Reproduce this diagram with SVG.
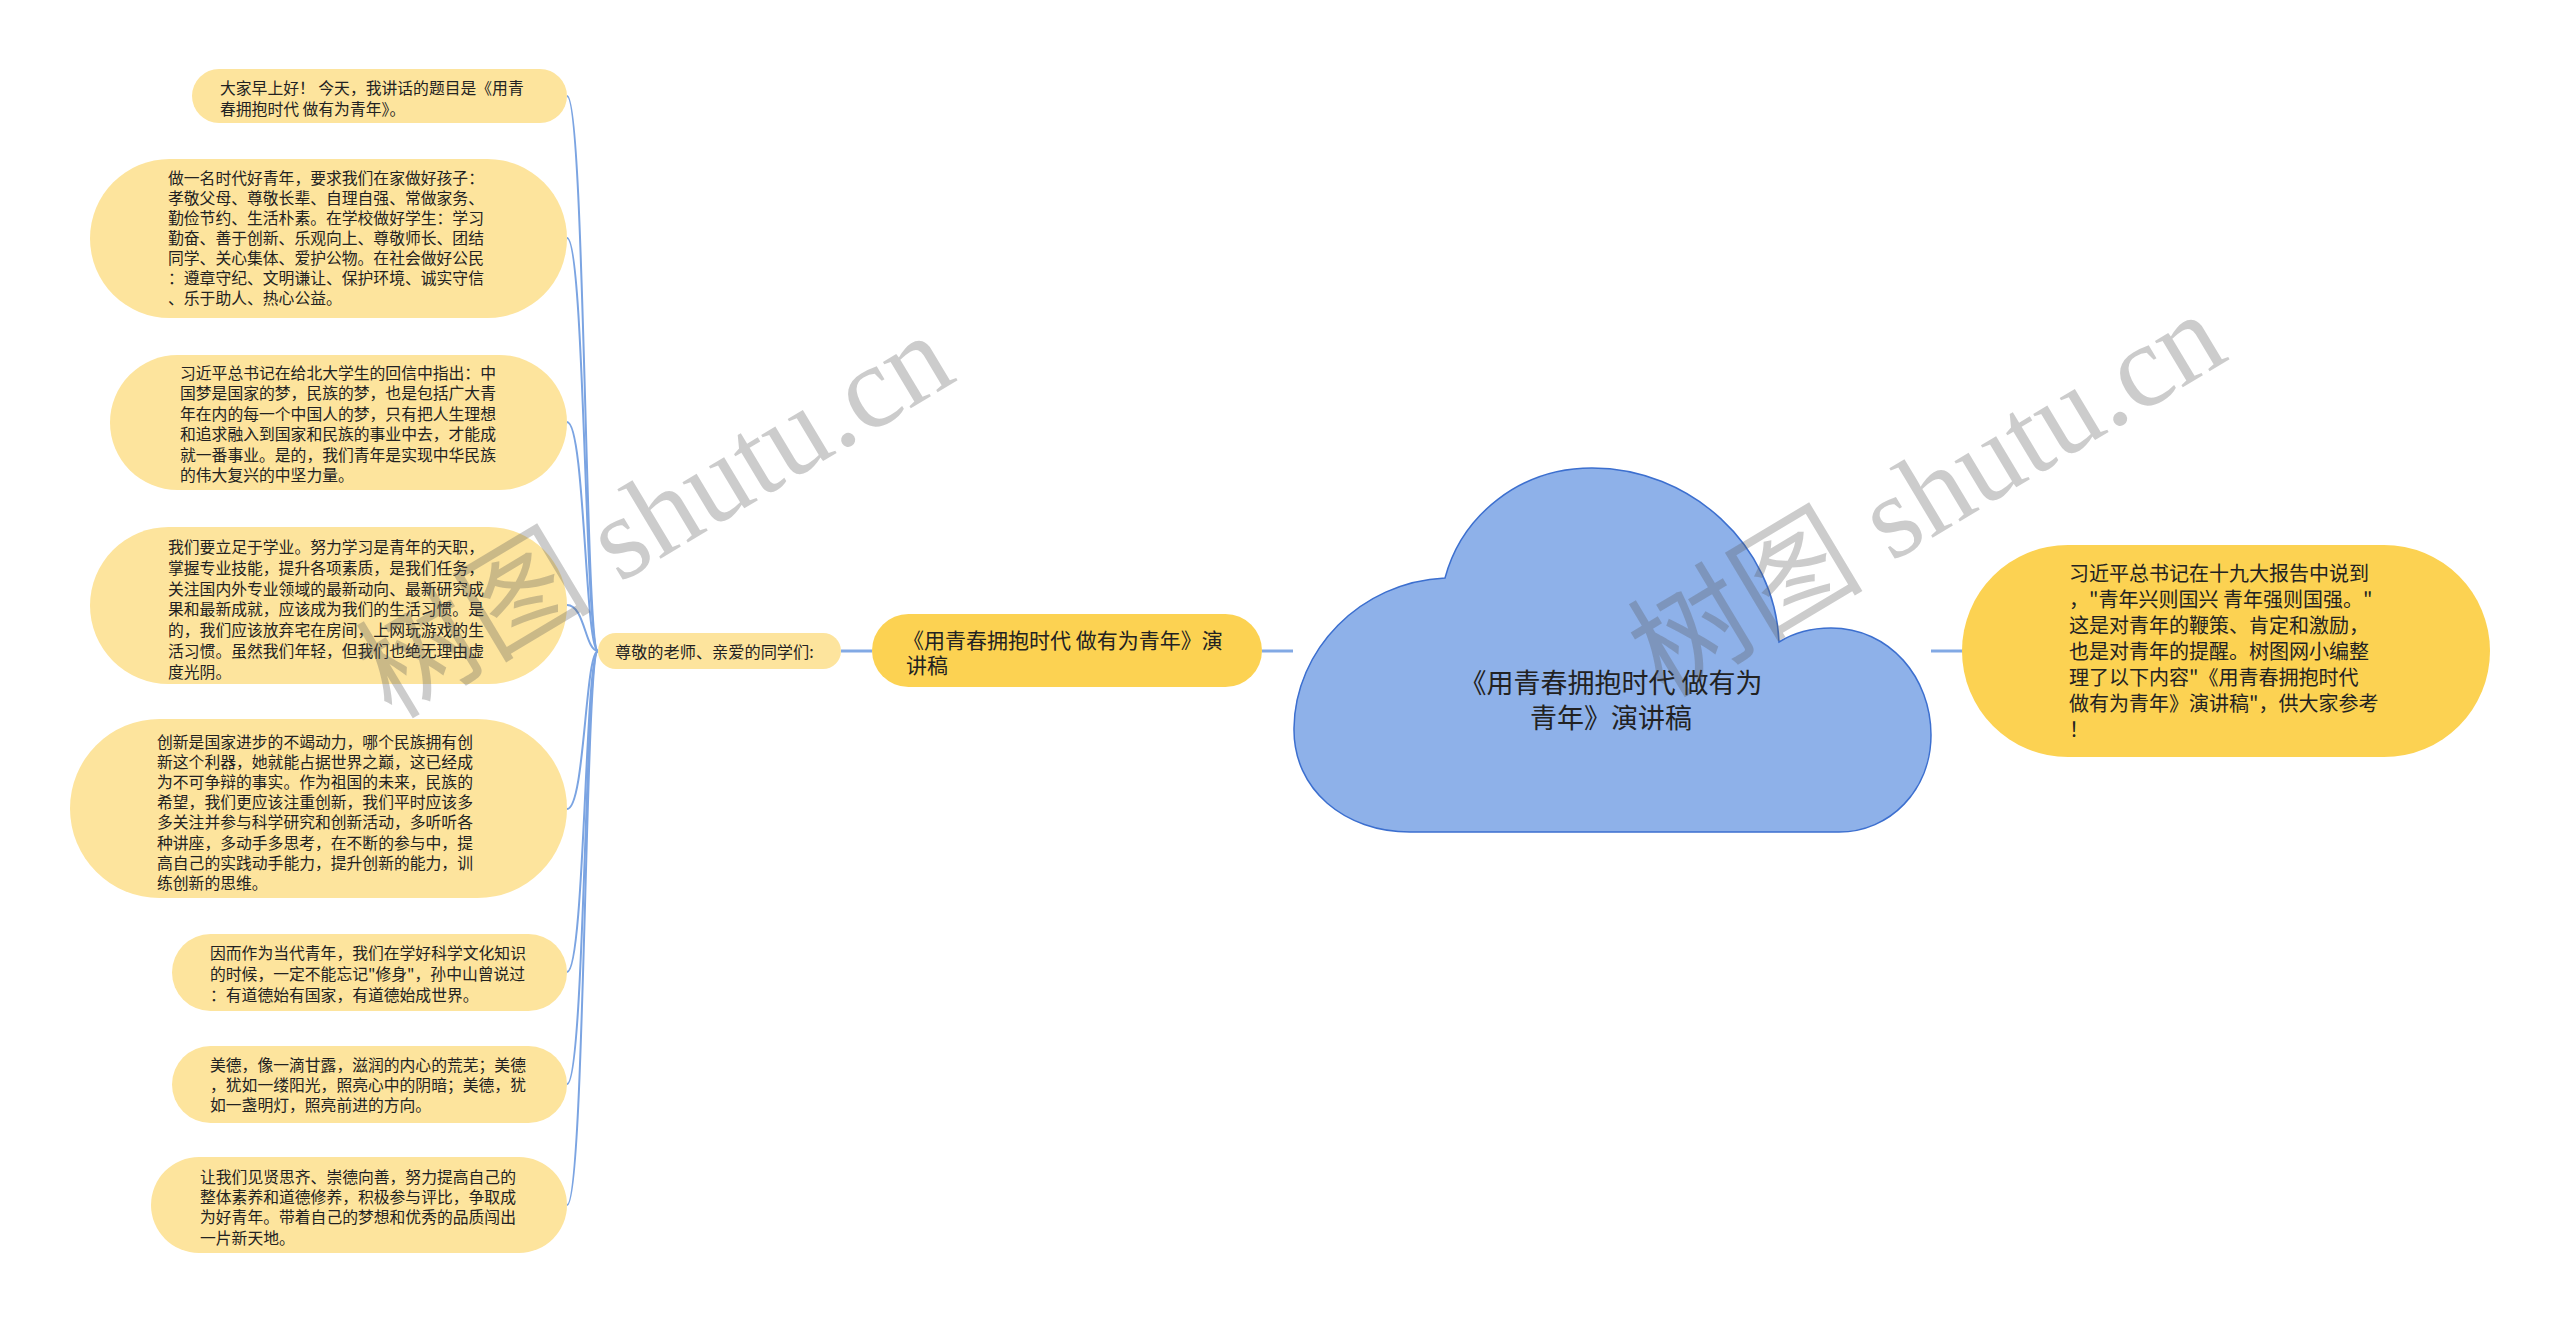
<svg xmlns="http://www.w3.org/2000/svg" width="2560" height="1323" viewBox="0 0 2560 1323">
<style>
.leaf{fill:#fde49d}
.main{fill:#fcd252}
.cloud{fill:#8eb1e9;stroke:#3c6fcf;stroke-width:1.5}
.t{font-family:"Noto Sans CJK SC","Noto Sans",sans-serif;fill:#222}
.ts{font-size:15.8px}
.tm{font-size:16.2px}
.tb{font-size:21px}
.tr{font-size:20px}
.tc{font-size:27px}
.ln{fill:none;stroke:#7ba4e2;stroke-width:2}
.lk{fill:none;stroke:#82a9e4;stroke-width:3}
.wm{font-family:"Liberation Serif","Noto Sans CJK SC",serif;font-size:118px;fill:#555;fill-opacity:0.3}
</style>
<rect width="2560" height="1323" fill="#ffffff"/>
<g id="connectors">
<path class="lk" d="M1262 651 H1293"/>
<path class="lk" d="M1931 651 H1963"/>
<path class="lk" d="M841 651 H872"/>
<path class="ln" d="M598 651 C585 651 585 96 567 96"/>
<path class="ln" d="M598 651 C585 651 585 238 567 238"/>
<path class="ln" d="M598 651 C585 651 585 422 567 422"/>
<path class="ln" d="M598 651 C585 651 585 605 567 605"/>
<path class="ln" d="M598 651 C585 651 585 809 567 809"/>
<path class="ln" d="M598 651 C585 651 585 972 567 972"/>
<path class="ln" d="M598 651 C585 651 585 1084 567 1084"/>
<path class="ln" d="M598 651 C585 651 585 1205 567 1205"/>
</g>
<g id="root">
<path class="cloud" d="M1410 832 C1345 832 1293 790 1294 728 C1295 650 1360 582 1445 578 C1462 515 1520 468 1592 468 C1690 468 1775 545 1779 642 C1795 632 1812 628 1831 628 C1890 628 1931 678 1931 735 C1931 790 1890 832 1839 832 Z"/>
<text class="t tc" text-anchor="middle"><tspan x="1611" y="693">《用青春拥抱时代 做有为</tspan><tspan x="1611" y="728">青年》演讲稿</tspan></text>
</g>
<g id="intro">
<rect class="main" x="1962" y="545" width="528" height="212" rx="106"/>
<text class="t tr"><tspan x="2069" y="581">习近平总书记在十九大报告中说到</tspan><tspan x="2069" y="607">，"青年兴则国兴 青年强则国强。"</tspan><tspan x="2069" y="633">这是对青年的鞭策、肯定和激励，</tspan><tspan x="2069" y="659">也是对青年的提醒。树图网小编整</tspan><tspan x="2069" y="685">理了以下内容"《用青春拥抱时代</tspan><tspan x="2069" y="711">做有为青年》演讲稿"，供大家参考</tspan><tspan x="2069" y="737">！</tspan></text>
</g>
<g id="branch">
<rect class="main" x="872" y="614" width="390" height="73" rx="36.5"/>
<text class="t tb"><tspan x="903" y="648">《用青春拥抱时代 做有为青年》演</tspan><tspan x="906" y="673">讲稿</tspan></text>
</g>
<g id="greeting">
<rect class="leaf" x="598" y="633" width="243" height="36" rx="18"/>
<text class="t tm" x="615" y="658">尊敬的老师、亲爱的同学们:</text>
</g>
<g id="leaf1">
<rect class="leaf" x="192" y="69" width="375" height="54" rx="27"/>
<text class="t ts"><tspan x="220" y="94">大家早上好！ 今天，我讲话的题目是《用青</tspan><tspan x="220" y="115">春拥抱时代 做有为青年》。</tspan></text>
</g>
<g id="leaf2">
<rect class="leaf" x="90" y="159" width="477" height="159" rx="79.5"/>
<text class="t ts"><tspan x="168" y="184">做一名时代好青年，要求我们在家做好孩子：</tspan><tspan x="168" y="204">孝敬父母、尊敬长辈、自理自强、常做家务、</tspan><tspan x="168" y="224">勤俭节约、生活朴素。在学校做好学生：学习</tspan><tspan x="168" y="244">勤奋、善于创新、乐观向上、尊敬师长、团结</tspan><tspan x="168" y="264">同学、关心集体、爱护公物。在社会做好公民</tspan><tspan x="168" y="284">：遵章守纪、文明谦让、保护环境、诚实守信</tspan><tspan x="168" y="304">、乐于助人、热心公益。</tspan></text>
</g>
<g id="leaf3">
<rect class="leaf" x="110" y="355" width="457" height="135" rx="67.5"/>
<text class="t ts"><tspan x="180" y="379">习近平总书记在给北大学生的回信中指出：中</tspan><tspan x="180" y="399.4">国梦是国家的梦，民族的梦，也是包括广大青</tspan><tspan x="180" y="419.8">年在内的每一个中国人的梦，只有把人生理想</tspan><tspan x="180" y="440.2">和追求融入到国家和民族的事业中去，才能成</tspan><tspan x="180" y="460.6">就一番事业。是的，我们青年是实现中华民族</tspan><tspan x="180" y="481">的伟大复兴的中坚力量。</tspan></text>
</g>
<g id="leaf4">
<rect class="leaf" x="90" y="527" width="477" height="157" rx="78.5"/>
<text class="t ts"><tspan x="168" y="553">我们要立足于学业。努力学习是青年的天职，</tspan><tspan x="168" y="573.8">掌握专业技能，提升各项素质，是我们任务，</tspan><tspan x="168" y="594.6">关注国内外专业领域的最新动向、最新研究成</tspan><tspan x="168" y="615.4">果和最新成就，应该成为我们的生活习惯。是</tspan><tspan x="168" y="636.2">的，我们应该放弃宅在房间，上网玩游戏的生</tspan><tspan x="168" y="657">活习惯。虽然我们年轻，但我们也绝无理由虚</tspan><tspan x="168" y="677.8">度光阴。</tspan></text>
</g>
<g id="leaf5">
<rect class="leaf" x="70" y="719" width="497" height="179" rx="89.5"/>
<text class="t ts"><tspan x="157" y="748">创新是国家进步的不竭动力，哪个民族拥有创</tspan><tspan x="157" y="768.1">新这个利器，她就能占据世界之巅，这已经成</tspan><tspan x="157" y="788.2">为不可争辩的事实。作为祖国的未来，民族的</tspan><tspan x="157" y="808.3">希望，我们更应该注重创新，我们平时应该多</tspan><tspan x="157" y="828.4">多关注并参与科学研究和创新活动，多听听各</tspan><tspan x="157" y="848.5">种讲座，多动手多思考，在不断的参与中，提</tspan><tspan x="157" y="868.6">高自己的实践动手能力，提升创新的能力，训</tspan><tspan x="157" y="888.7">练创新的思维。</tspan></text>
</g>
<g id="leaf6">
<rect class="leaf" x="172" y="934" width="395" height="77" rx="38.5"/>
<text class="t ts"><tspan x="210" y="959">因而作为当代青年，我们在学好科学文化知识</tspan><tspan x="210" y="980">的时候，一定不能忘记"修身"，孙中山曾说过</tspan><tspan x="210" y="1001">：有道德始有国家，有道德始成世界。</tspan></text>
</g>
<g id="leaf7">
<rect class="leaf" x="172" y="1046" width="395" height="77" rx="38.5"/>
<text class="t ts"><tspan x="210" y="1071">美德，像一滴甘露，滋润的内心的荒芜；美德</tspan><tspan x="210" y="1091">，犹如一缕阳光，照亮心中的阴暗；美德，犹</tspan><tspan x="210" y="1111">如一盏明灯，照亮前进的方向。</tspan></text>
</g>
<g id="leaf8">
<rect class="leaf" x="151" y="1157" width="416" height="96" rx="48"/>
<text class="t ts"><tspan x="200" y="1183">让我们见贤思齐、崇德向善，努力提高自己的</tspan><tspan x="200" y="1203">整体素养和道德修养，积极参与评比，争取成</tspan><tspan x="200" y="1223">为好青年。带着自己的梦想和优秀的品质闯出</tspan><tspan x="200" y="1244">一片新天地。</tspan></text>
</g>
<g id="watermarks">
<text class="wm" text-anchor="middle" dominant-baseline="central" transform="translate(655 516) rotate(-31)">树图 shutu.cn</text>
<text class="wm" text-anchor="middle" dominant-baseline="central" transform="translate(1927 495) rotate(-31)">树图 shutu.cn</text>
</g>
</svg>
